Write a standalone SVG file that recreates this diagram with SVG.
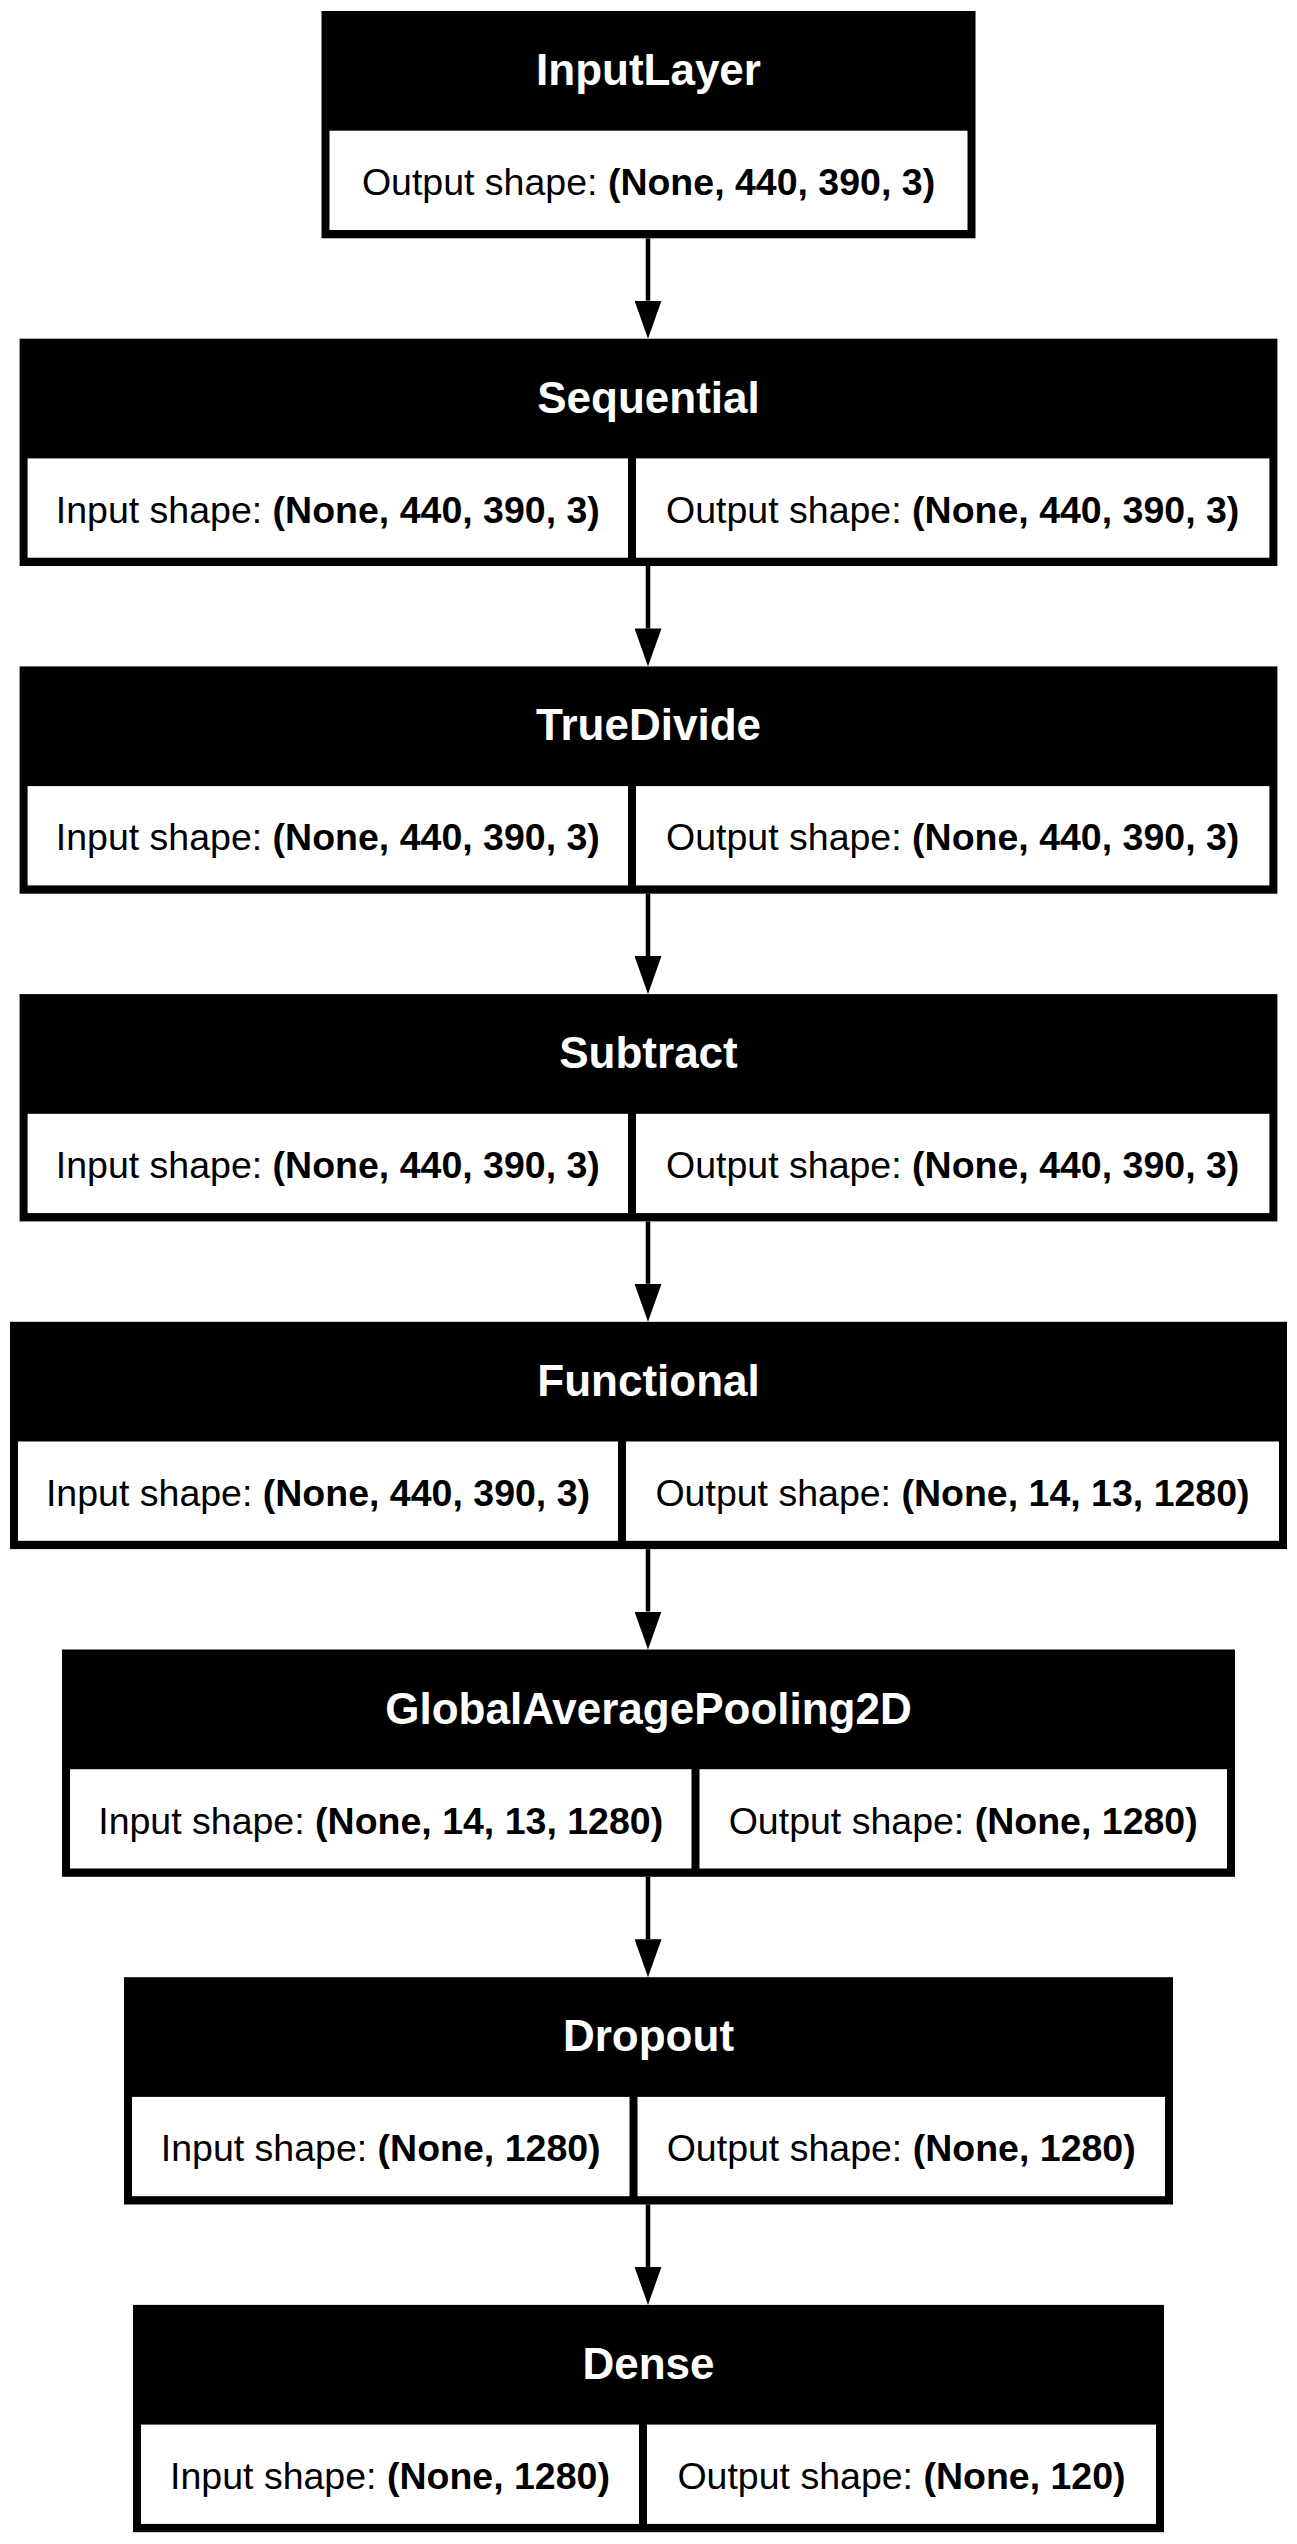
<svg xmlns="http://www.w3.org/2000/svg" width="1297" height="2544" viewBox="0 0 1297 2544">
<style>
.frame{fill:#000}
.cell{fill:#fff}
.title{font-family:"Liberation Sans",Arial,Helvetica,sans-serif;font-size:44px;font-weight:bold;fill:#fff;text-anchor:middle}
.body{font-family:"Liberation Sans",Arial,Helvetica,sans-serif;font-size:37.5px;fill:#000;text-anchor:middle}
.b{font-weight:bold}
.edge{stroke:#000;stroke-width:4.5;fill:none}
</style>
<defs>
<marker id="arrow" viewBox="0 0 38 27" refX="0" refY="13.5" markerWidth="38" markerHeight="27" markerUnits="userSpaceOnUse" orient="auto">
<path d="M0,0 L38,13.5 L0,27 z" fill="#000"/>
</marker>
</defs>
<rect width="1297" height="2544" fill="#fff"/>

<g id="edges">
<path class="edge" d="M648,238.3 V300.7" marker-end="url(#arrow)"/>
<path class="edge" d="M648,566 V628.4" marker-end="url(#arrow)"/>
<path class="edge" d="M648,893.7 V956.1" marker-end="url(#arrow)"/>
<path class="edge" d="M648,1221.4 V1283.8" marker-end="url(#arrow)"/>
<path class="edge" d="M648,1549.1 V1611.5" marker-end="url(#arrow)"/>
<path class="edge" d="M648,1876.8 V1939.2" marker-end="url(#arrow)"/>
<path class="edge" d="M648,2204.5 V2266.9" marker-end="url(#arrow)"/>
</g>

<g id="node-inputlayer">
<rect class="frame" x="321.5" y="11" width="654" height="227.3"/>
<rect class="cell" x="329.5" y="130.7" width="638" height="99.3"/>
<text class="title" x="648.5" y="85">InputLayer</text>
<text class="body" x="648.5" y="195">Output shape: <tspan class="b">(None, 440, 390, 3)</tspan></text>
</g>

<g id="node-sequential">
<rect class="frame" x="19.6" y="338.7" width="1257.8" height="227.3"/>
<rect class="cell" x="27.6" y="458.4" width="600.4" height="99.3"/>
<rect class="cell" x="636" y="458.4" width="633.4" height="99.3"/>
<text class="title" x="648.5" y="412.7">Sequential</text>
<text class="body" x="327.8" y="522.7">Input shape: <tspan class="b">(None, 440, 390, 3)</tspan></text>
<text class="body" x="952.7" y="522.7">Output shape: <tspan class="b">(None, 440, 390, 3)</tspan></text>
</g>

<g id="node-truedivide">
<rect class="frame" x="19.6" y="666.4" width="1257.8" height="227.3"/>
<rect class="cell" x="27.6" y="786.1" width="600.4" height="99.3"/>
<rect class="cell" x="636" y="786.1" width="633.4" height="99.3"/>
<text class="title" x="648.5" y="740.4">TrueDivide</text>
<text class="body" x="327.8" y="850.4">Input shape: <tspan class="b">(None, 440, 390, 3)</tspan></text>
<text class="body" x="952.7" y="850.4">Output shape: <tspan class="b">(None, 440, 390, 3)</tspan></text>
</g>

<g id="node-subtract">
<rect class="frame" x="19.6" y="994.1" width="1257.8" height="227.3"/>
<rect class="cell" x="27.6" y="1113.8" width="600.4" height="99.3"/>
<rect class="cell" x="636" y="1113.8" width="633.4" height="99.3"/>
<text class="title" x="648.5" y="1068.1">Subtract</text>
<text class="body" x="327.8" y="1178.1">Input shape: <tspan class="b">(None, 440, 390, 3)</tspan></text>
<text class="body" x="952.7" y="1178.1">Output shape: <tspan class="b">(None, 440, 390, 3)</tspan></text>
</g>

<g id="node-functional">
<rect class="frame" x="10" y="1321.8" width="1277" height="227.3"/>
<rect class="cell" x="18" y="1441.5" width="600" height="99.3"/>
<rect class="cell" x="626" y="1441.5" width="653" height="99.3"/>
<text class="title" x="648.5" y="1395.8">Functional</text>
<text class="body" x="318" y="1505.8">Input shape: <tspan class="b">(None, 440, 390, 3)</tspan></text>
<text class="body" x="952.5" y="1505.8">Output shape: <tspan class="b">(None, 14, 13, 1280)</tspan></text>
</g>

<g id="node-globalaveragepooling2d">
<rect class="frame" x="62" y="1649.5" width="1173" height="227.3"/>
<rect class="cell" x="70" y="1769.2" width="621.5" height="99.3"/>
<rect class="cell" x="699.5" y="1769.2" width="527.5" height="99.3"/>
<text class="title" x="648.5" y="1723.5">GlobalAveragePooling2D</text>
<text class="body" x="380.7" y="1833.5">Input shape: <tspan class="b">(None, 14, 13, 1280)</tspan></text>
<text class="body" x="963.2" y="1833.5">Output shape: <tspan class="b">(None, 1280)</tspan></text>
</g>

<g id="node-dropout">
<rect class="frame" x="124" y="1977.2" width="1049" height="227.3"/>
<rect class="cell" x="132" y="2096.9" width="497.5" height="99.3"/>
<rect class="cell" x="637.5" y="2096.9" width="527.5" height="99.3"/>
<text class="title" x="648.5" y="2051.2">Dropout</text>
<text class="body" x="380.7" y="2161.2">Input shape: <tspan class="b">(None, 1280)</tspan></text>
<text class="body" x="901.2" y="2161.2">Output shape: <tspan class="b">(None, 1280)</tspan></text>
</g>

<g id="node-dense">
<rect class="frame" x="133" y="2304.9" width="1031" height="227.3"/>
<rect class="cell" x="141" y="2424.6" width="498" height="99.3"/>
<rect class="cell" x="647" y="2424.6" width="509" height="99.3"/>
<text class="title" x="648.5" y="2378.9">Dense</text>
<text class="body" x="390" y="2488.9">Input shape: <tspan class="b">(None, 1280)</tspan></text>
<text class="body" x="901.5" y="2488.9">Output shape: <tspan class="b">(None, 120)</tspan></text>
</g>
</svg>
